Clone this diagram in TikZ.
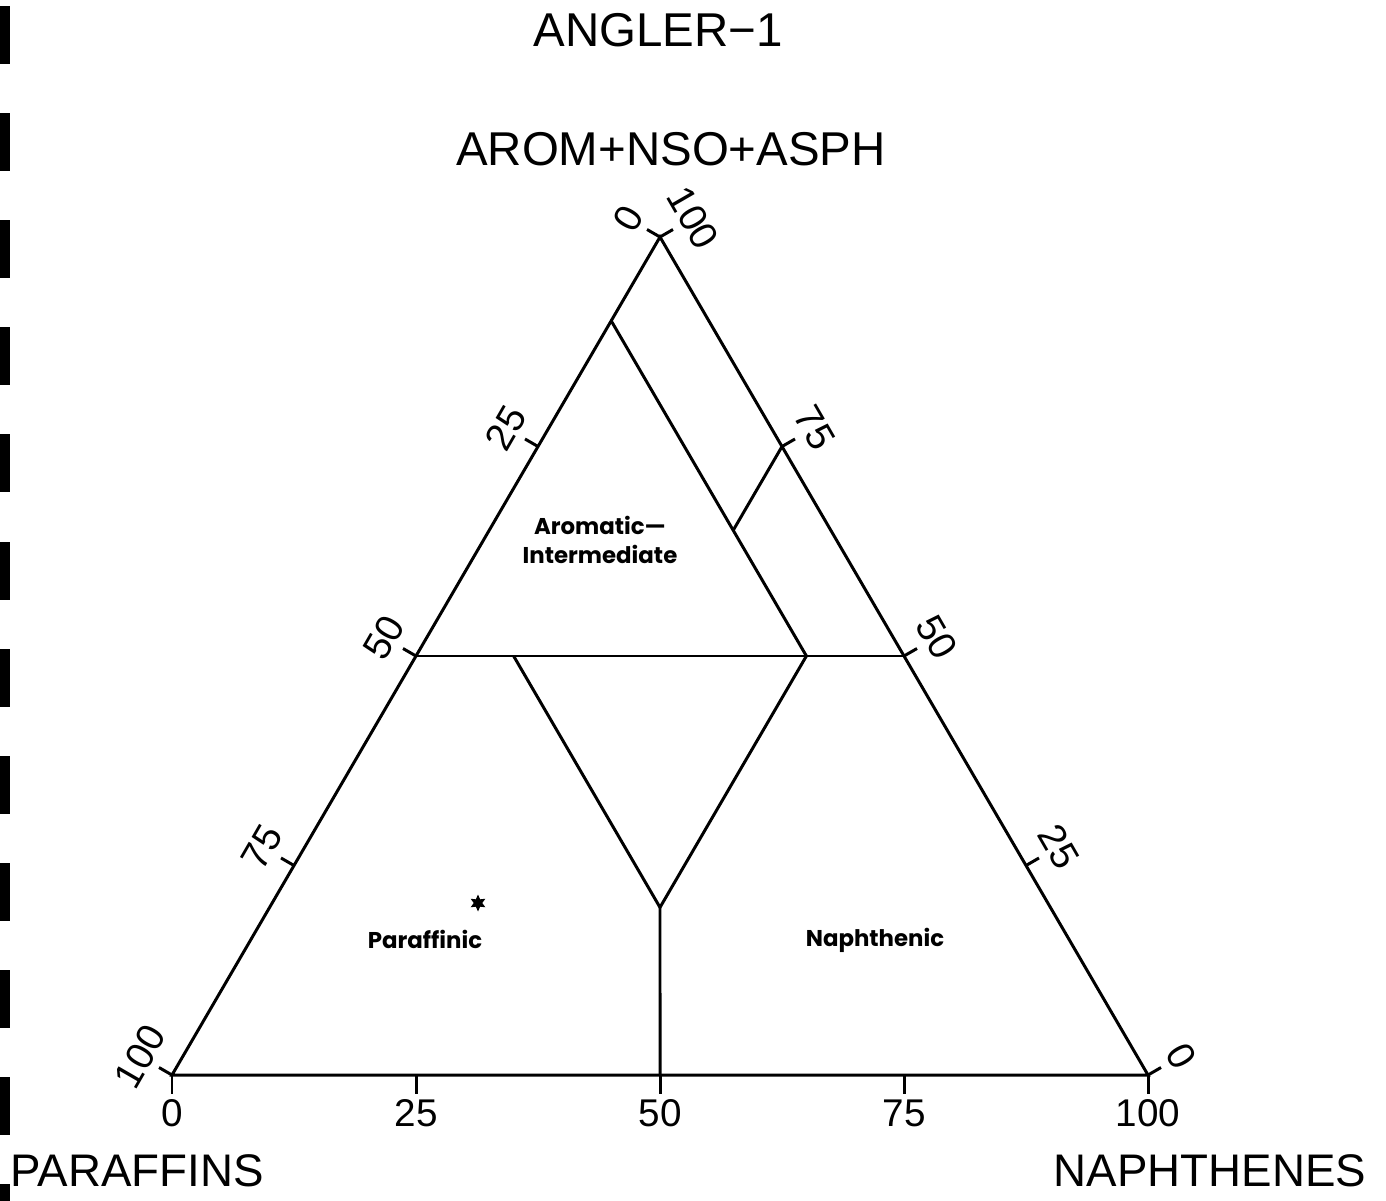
\documentclass[tikz,border=0pt]{standalone}
\usepackage{fontspec}
\setmainfont{Liberation Sans}
\newfontfamily\regionfont{Poppins}
\usepackage{tikz}
\usetikzlibrary{calc, shapes.geometric}
\definecolor{plotink}{HTML}{000000}

\begin{document}
\begin{tikzpicture}[
  every node/.style={font=\fontsize{11}{12}\selectfont, text=plotink},
  edge/.style={draw=plotink, line width=0.85pt},
  tick/.style={draw=plotink, line width=0.85pt},
  scalelabel/.style={inner sep=0pt},
  axistitle/.style={font=\fontsize{13}{14}\selectfont, inner sep=0pt},
  regionlabel/.style={font=\regionfont\bfseries\fontsize{6.5}{8.5}\selectfont, align=center, inner sep=0pt},
  samplemark/.style={star, star points=6, star point ratio=2.0, fill=plotink, minimum size=0.17cm, inner sep=0pt},
]
\useasboundingbox (0,0) rectangle (13.86,12);

% punched edge of the sheet
\begin{scope}
\clip (0,0) rectangle (13.86,12);
\foreach \k in {0,...,11}
  \fill[plotink] (0,{12-0.06-1.071*\k}) rectangle ++(0.095,-0.58);
\end{scope}

\coordinate (P) at (1.72,1.25);
\coordinate (N) at (11.48,1.25);
\coordinate (A) at (6.60,9.63);

\draw[edge] (P) -- (N) -- (A) -- cycle;

% class boundaries
\coordinate (a50p) at ($(P)!0.5!(A)$);
\coordinate (a50n) at ($(N)!0.5!(A)$);
\coordinate (p10top) at (barycentric cs:P=0.1,N=0,A=0.9);
\coordinate (p10mid) at (barycentric cs:P=0.1,N=0.4,A=0.5);
\coordinate (p40mid) at (barycentric cs:P=0.4,N=0.1,A=0.5);
\coordinate (fork) at (barycentric cs:P=0.4,N=0.4,A=0.2);
\coordinate (base50) at ($(P)!0.5!(N)$);
\coordinate (n25top) at (barycentric cs:P=0,N=0.25,A=0.75);
\coordinate (n25low) at (barycentric cs:P=0.1,N=0.25,A=0.65);

\draw[edge] (a50p) -- (a50n);
\draw[edge] (p10top) -- (p10mid) -- (fork) -- (p40mid);
\draw[edge] (fork) -- (base50);
\draw[edge] (n25top) -- (n25low);

% scales
\foreach \v in {0,25,50,75,100} {
  \coordinate (b\v) at ($(P)!\v/100!(N)$);
  \draw[tick] (b\v) -- ++(0,-0.19);
  \node[scalelabel] (bl\v) at ($(b\v)+(0,-0.38)$) {\v};
}
\foreach \v/\t in {0/100,25/75,50/50,75/25,100/0} {
  \coordinate (l\v) at ($(P)!\v/100!(A)$);
  \draw[tick] (l\v) -- ++(150:0.15);
  \node[scalelabel, rotate=60] (ll\v) at ($(l\v)+(150:0.37)$) {\t};
}
\foreach \v in {0,25,50,75,100} {
  \coordinate (r\v) at ($(N)!\v/100!(A)$);
  \draw[tick] (r\v) -- ++(30:0.15);
  \node[scalelabel, rotate=-60] (rl\v) at ($(r\v)+(30:0.38)$) {\v};
}

\node[axistitle, font=\fontsize{13.5}{14}\selectfont] (well) at (6.58,11.70) {ANGLER−1};
\node[axistitle, font=\fontsize{13.5}{14}\selectfont] (aromtitle) at (6.71,10.51) {AROM+NSO+ASPH};
\node[axistitle] (paratitle) at (1.37,0.29) {PARAFFINS};
\node[axistitle] (naphtitle) at (12.10,0.29) {NAPHTHENES};

\node[regionlabel] (aromzone) at (6.00,6.60) {Aromatic—\\Intermediate};
\node[regionlabel] (parazone) at (4.25,2.61) {Paraffinic};
\node[regionlabel] (naphzone) at (8.75,2.60) {Naphthenic};

\node[samplemark] (sample) at (4.78,2.97) {};
\end{tikzpicture}
\end{document}
